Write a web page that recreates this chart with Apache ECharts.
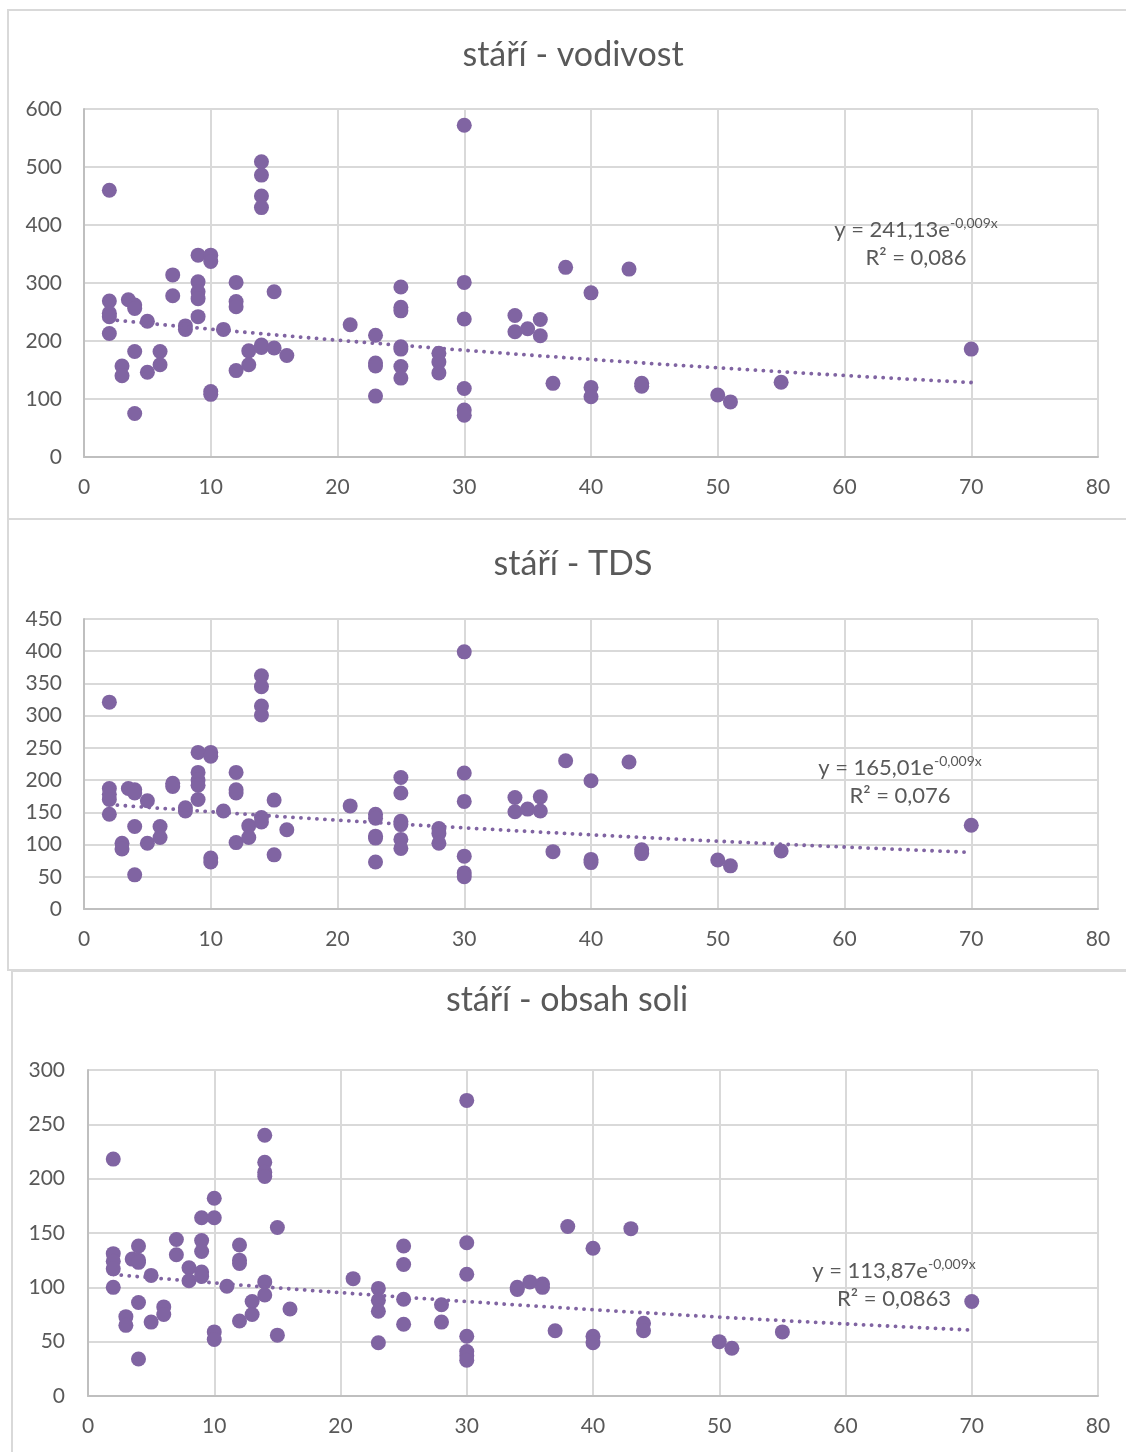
<!DOCTYPE html>
<html><head><meta charset="utf-8">
<script src="https://cdn.jsdelivr.net/npm/echarts@6/dist/echarts.min.js"></script>
<style>html,body{margin:0;padding:0;background:#fff}#c{width:1126px;height:1452px}</style>
</head><body><div id="c"></div>
<script>
const titles = ['stáří - vodivost', 'stáří - TDS', 'stáří - obsah soli'];

const vodivost = [
  [2,460],[2,269],[2,248],[2,242],[2,213],
  [3,157],[3,140],[3.5,271],[4,262],[4,256],[4,182],[4,75],
  [5,234],[5,146],[6,182],[6,159],
  [7,314],[7,278],[8,226],[8,220],
  [9,348],[9,302],[9,285],[9,273],[9,242],
  [10,348],[10,337],[10,113],[10,108],
  [11,220],
  [12,301],[12,268],[12,259],[12,149],
  [13,183],[13,159],
  [14,509],[14,486],[14,450],[14,430],[14,193],[14,189],
  [15,285],[15,188],
  [16,175],
  [21,228],
  [23,210],[23,162],[23,157],[23,105],
  [25,293],[25,258],[25,252],[25,190],[25,186],[25,156],[25,136],
  [28,179],[28,164],[28,145],
  [30,572],[30,301],[30,238],[30,118],[30,81],[30,72],
  [34,244],[34,216],[35,221],[36,237],[36,209],
  [37,127],[38,327],
  [40,283],[40,120],[40,104],
  [43,324],[44,127],[44,122],
  [50,107],[51,95],[55,129],[70,186]
];

const tds = [
  [2,321],[2,187],[2,178],[2,170],[2,147],
  [3,102],[3,93],[3.5,187],[4,185],[4,180],[4,128],[4,53],
  [5,168],[5,102],[6,128],[6,111],
  [7,195],[7,190],[8,157],[8,152],
  [9,243],[9,212],[9,200],[9,192],[9,170],
  [10,243],[10,237],[10,79],[10,73],
  [11,152],
  [12,212],[12,185],[12,180],[12,103],
  [13,129],[13,111],
  [14,362],[14,345],[14,315],[14,301],[14,142],[14,135],
  [15,169],[15,84],
  [16,123],
  [21,160],
  [23,147],[23,141],[23,113],[23,110],[23,73],
  [25,204],[25,180],[25,136],[25,131],[25,108],[25,94],
  [28,125],[28,117],[28,102],
  [30,399],[30,211],[30,167],[30,82],[30,56],[30,50],
  [34,173],[34,151],[35,155],[36,174],[36,152],
  [37,89],[38,230],
  [40,199],[40,77],[40,72],
  [43,228],[44,92],[44,86],
  [50,76],[51,67],[55,90],[70,130]
];

const soli = [
  [2,218],[2,131],[2,124],[2,117],[2,100],
  [3,73],[3,65],[3.5,126],[4,125],[4,123],[4,138],[4,86],[4,34],
  [5,111],[5,68],[6,82],[6,75],
  [7,144],[7,130],[8,118],[8,106],
  [9,164],[9,143],[9,133],[9,114],[9,110],
  [10,182],[10,164],[10,59],[10,52],
  [11,101],
  [12,139],[12,125],[12,122],[12,69],
  [13,87],[13,75],
  [14,240],[14,215],[14,206],[14,202],[14,105],[14,93],
  [15,155],[15,56],
  [16,80],
  [21,108],
  [23,99],[23,88],[23,78],[23,49],
  [25,138],[25,121],[25,89],[25,66],
  [28,84],[28,68],
  [30,272],[30,141],[30,112],[30,55],[30,41],[30,37],[30,33],
  [34,100],[34,98],[35,105],[36,103],[36,100],
  [37,60],[38,156],
  [40,136],[40,55],[40,49],
  [43,154],[44,67],[44,60],
  [50,50],[51,44],[55,59],[70,87]
];

const yMax = [600, 450, 300];
const yInterval = [100, 50, 50];
const xMin = 0, xMax = 80, xInterval = 10;

// exponential trendline coefficients as printed in the chart: y = a * e^(b x)
const trendA = [241.13, 165.01, 113.87];
const trendB = [-0.009, -0.009, -0.009];
const eqCoef = ['241,13', '165,01', '113,87'];
const eqExp = ['-0,009x', '-0,009x', '-0,009x'];
const r2Text = ['0,086', '0,076', '0,0863'];

const datasets = [vodivost, tds, soli];
const PURPLE = '#8064A2';
const TXT = '#595959';
const FONT = 'Lato';

const grids = [
  {left: 84, top: 109, width: 1014, height: 348},
  {left: 84, top: 619, width: 1014, height: 290},
  {left: 88, top: 1070, width: 1010, height: 326}
];
const titlePos = [[573, 55], [573, 564], [567, 1000]];
const eqPos = [[916, 216], [900, 754], [894, 1257]];
const frames = [
  {x: 8, y: 10, width: 1200, height: 509},
  {x: 8, y: 519, width: 1200, height: 451},
  {x: 12, y: 971, width: 1200, height: 600}
];

function trendLine(data, a, b) {
  const xs = data.map(d => d[0]);
  const lo = Math.min(...xs), hi = Math.max(...xs);
  const pts = [];
  for (let x = lo; x <= hi; x += 1) pts.push([x, a * Math.exp(b * x)]);
  if (pts[pts.length - 1][0] !== hi) pts.push([hi, a * Math.exp(b * hi)]);
  return pts;
}

const xAxes = [], yAxes = [], series = [], graphics = [];
for (let i = 0; i < 3; i++) {
  xAxes.push({
    type: 'value', gridIndex: i, min: xMin, max: xMax, interval: xInterval,
    axisLine: {show: true, onZero: false, lineStyle: {color: '#bfbfbf', width: 2}},
    axisTick: {show: false},
    axisLabel: {color: TXT, fontFamily: FONT, fontSize: 21, margin: 20},
    splitLine: {show: true, lineStyle: {color: '#d9d9d9', width: 2}}
  });
  yAxes.push({
    type: 'value', gridIndex: i, min: 0, max: yMax[i], interval: yInterval[i],
    axisLine: {show: true, onZero: false, lineStyle: {color: '#bfbfbf', width: 2}},
    axisTick: {show: false},
    axisLabel: {color: TXT, fontFamily: FONT, fontSize: 21, margin: i === 2 ? 23 : 22},
    splitLine: {show: true, lineStyle: {color: '#d9d9d9', width: 2}}
  });
  series.push({
    type: 'scatter', xAxisIndex: i, yAxisIndex: i, data: datasets[i],
    symbol: 'circle', symbolSize: 15, itemStyle: {color: PURPLE, opacity: 1}, z: 3
  });
  series.push({
    type: 'line', xAxisIndex: i, yAxisIndex: i,
    data: trendLine(datasets[i], trendA[i], trendB[i]),
    showSymbol: false, symbol: 'none', smooth: false, z: 4,
    lineStyle: {color: PURPLE, width: 3.8, type: [0.1, 7.9], cap: 'round'}
  });
  graphics.push({
    type: 'rect', shape: frames[i], silent: true, z: 0,
    style: {fill: 'none', stroke: '#d9d9d9', lineWidth: 2}
  });
  graphics.push({
    type: 'text', silent: true,
    style: {text: titles[i], x: titlePos[i][0], y: titlePos[i][1], textAlign: 'center', textVerticalAlign: 'middle',
      fontFamily: FONT, fontSize: 34, fill: TXT}
  });
  graphics.push({
    type: 'text', silent: true, z: 10,
    style: {
      text: '{m|y = ' + eqCoef[i] + 'e}{s|' + eqExp[i] + '}\n{m|R² = ' + r2Text[i] + '}',
      x: eqPos[i][0], y: eqPos[i][1], textAlign: 'center', textVerticalAlign: 'top',
      rich: {
        m: {fontFamily: FONT, fontSize: 22, fill: TXT, lineHeight: 28},
        s: {fontFamily: FONT, fontSize: 14, fill: TXT, lineHeight: 14, verticalAlign: 'top'}
      }
    }
  });
}

const chart = echarts.init(document.getElementById('c'), null, {renderer: 'canvas'});
chart.setOption({
  animation: false,
  backgroundColor: '#ffffff',
  grid: grids,
  xAxis: xAxes,
  yAxis: yAxes,
  series: series,
  graphic: graphics
});
</script>
</body></html>
